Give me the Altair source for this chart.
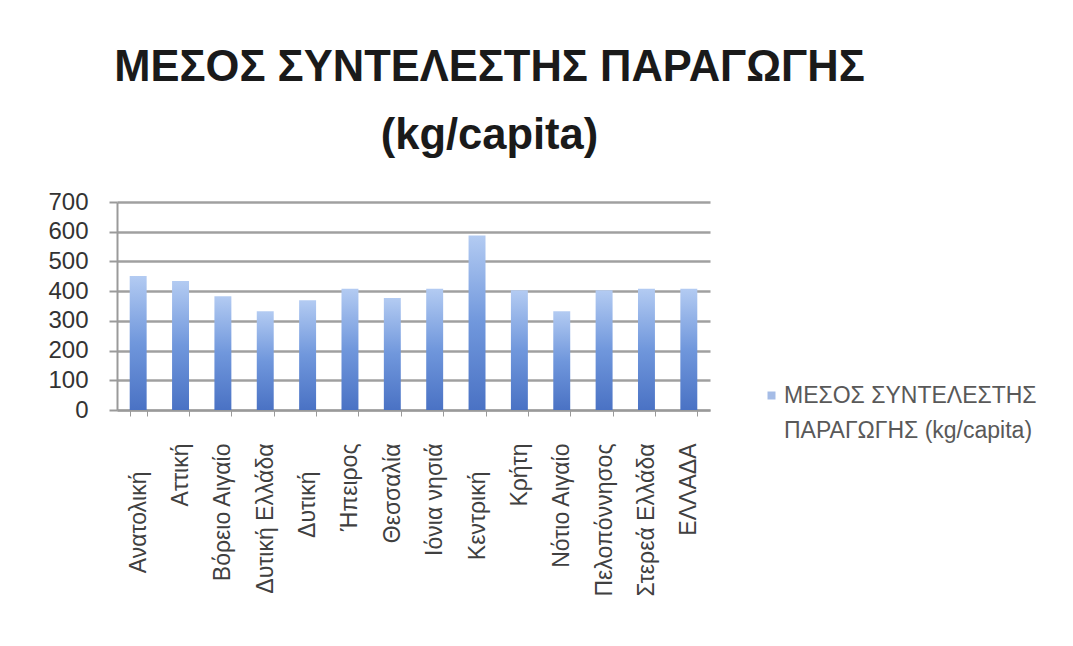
import altair as alt
import pandas as pd

regions = ["Ανατολική", "Αττική", "Βόρειο Αιγαίο", "Δυτική Ελλάδα", "Δυτική",
           "Ήπειρος", "Θεσσαλία", "Ιόνια νησιά", "Κεντρική", "Κρήτη",
           "Νότιο Αιγαίο", "Πελοπόννησος", "Στερεά Ελλάδα", "ΕΛΛΑΔΑ"]
values = [451, 434, 383, 332, 369, 408, 377, 408, 587, 403, 332, 403, 408, 408]
legend_lines = ["ΜΕΣΟΣ ΣΥΝΤΕΛΕΣΤΗΣ", "ΠΑΡΑΓΩΓΗΣ (kg/capita)"]
title_lines = ["ΜΕΣΟΣ ΣΥΝΤΕΛΕΣΤΗΣ ΠΑΡΑΓΩΓΗΣ", "(kg/capita)"]
y_ticks = [0, 100, 200, 300, 400, 500, 600, 700]
# labels that sit lower under the axis in the original (wrapped in the source)
lowered = ["Ανατολική", "Δυτική", "Κεντρική"]

df = pd.DataFrame({"region": regions, "value": values, "series": legend_lines[0]})

grad = alt.Gradient(
    gradient="linear",
    stops=[alt.GradientStop(color="#b3cbf2", offset=0),
           alt.GradientStop(color="#7097dc", offset=0.5),
           alt.GradientStop(color="#4a72c4", offset=1)],
    x1=0, x2=0, y1=0, y2=1,
)

low_expr = "indexof(" + str(lowered).replace('"', "'") + ", datum.value) >= 0"
x_enc = alt.X("region:N", sort=regions, title=None,
              scale=alt.Scale(paddingInner=0.6, paddingOuter=0.3),
              axis=alt.Axis(labelAngle=-90, labelFontSize=23, labelColor="#404040",
                            labelFont="Liberation Sans",
                            labelPadding={"condition": {"test": low_expr, "value": 55},
                                          "value": 27},
                            tickBand="extent", tickSize=6, tickColor="#9a9a9a",
                            domainColor="#9a9a9a", domainWidth=2, labelLimit=300,
                            labelOverlap=False))
y_enc = alt.Y("value:Q", title=None,
              scale=alt.Scale(domain=[0, 700], nice=False),
              axis=alt.Axis(values=y_ticks, labelFontSize=24, labelColor="#333333",
                            labelFont="Liberation Sans", labelPadding=21,
                            ticks=True, tickSize=8, tickColor="#9a9a9a", tickWidth=2,
                            labelOverlap=False,
                            gridColor="#a0a0a0", gridWidth=2.5, domainColor="#9a9a9a",
                            domainWidth=2))

bars = alt.Chart(df).mark_bar(fill=grad).encode(x=x_enc, y=y_enc)

legend_layer = alt.Chart(df).transform_filter("false").mark_square(size=60).encode(
    color=alt.Color("series:N",
                    scale=alt.Scale(domain=legend_lines, range=["#7f9fdc", "transparent"]),
                    legend=alt.Legend(
                        title=None, orient="none", legendX=643, legendY=182,
                        symbolType="square", symbolSize=64, symbolStrokeWidth=0,
                        labelFontSize=23, labelColor="#595959",
                        labelFont="Liberation Sans", labelLimit=400,
                        rowPadding=11, padding=0, labelOffset=1,
                    )),
)

chart = alt.layer(bars, legend_layer).properties(
    width=593, height=208,
    background="white",
    title=alt.TitleParams(text=title_lines, fontSize=43.5, font="Liberation Sans",
                          fontWeight="bold", color="#1a1a1a", lineHeight=68,
                          anchor="middle", dx=76, offset=32),
    autosize=alt.AutoSizeParams(type="none"),
    padding={"left": 109, "top": 194, "right": 355, "bottom": 228},
).configure_view(stroke=None)

chart.save("out.html", embed_options={"renderer": "svg", "actions": False})
